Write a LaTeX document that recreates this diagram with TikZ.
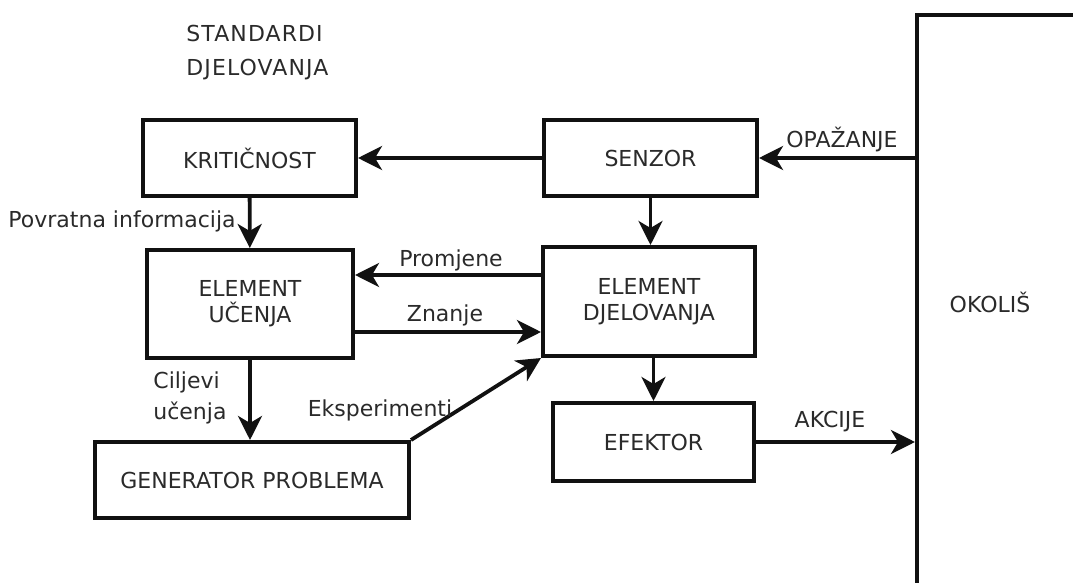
\documentclass[tikz,border=0pt]{standalone}
\usepackage{fontspec}
\setmainfont{DejaVu Sans}
\usetikzlibrary{arrows.meta}
\definecolor{ink}{HTML}{111111}
\definecolor{txt}{HTML}{2A2A2A}

\begin{document}
\begin{tikzpicture}[x=0.5pt, y=-0.5pt,
    box/.style={draw=ink, line width=2pt, fill=white, font=\fontsize{11}{13}\selectfont, text=txt, align=center},
    conn/.style={draw=ink, line width=1.9pt, -{Stealth[length=12pt, width=12pt, inset=3.5pt]}},
    lbl/.style={font=\fontsize{11}{15.5}\selectfont, text=txt, inner sep=0pt}]
  \useasboundingbox (0,0) rectangle (1073,583);
  \clip (0,0) rectangle (1073,583);

  % Boxes
  \node[box, minimum width=106.5pt, minimum height=38pt] (krit) at (249.5,158) {KRITIČNOST};
  \node[box, minimum width=106.5pt, minimum height=38pt] (senzor) at (650.5,158) {SENZOR};
  \node[box, minimum width=103pt, minimum height=54pt] (ucenje) at (250,304) {ELEMENT\\UČENJA};
  \node[box, minimum width=106pt, minimum height=54.5pt] (djelovanje) at (649,301.5) {ELEMENT\\DJELOVANJA};
  \node[box, minimum width=157pt, minimum height=38pt] (generator) at (252,480) {GENERATOR PROBLEMA};
  \node[box, minimum width=100.5pt, minimum height=39pt] (efektor) at (653.5,442) {EFEKTOR};
  \node[box, anchor=north west, minimum width=110pt, minimum height=310pt] (okolis) at (915,13) {};
  \node[lbl] (okolisnaziv) at (990,302) {OKOLIŠ};

  % Arrows
  \draw[conn] (senzor) -- (krit);
  \draw[conn] (krit) -- (ucenje);
  \draw[conn] (djelovanje.west |- 0,275) -- (ucenje.east |- 0,275);
  \draw[conn] (ucenje.east |- 0,332) -- (djelovanje.west |- 0,332);
  \draw[conn] (ucenje.south) -- (ucenje.south |- generator.north);
  \draw[conn] (generator.north east) -- (djelovanje.south west);
  \draw[conn] (senzor.south) -- (senzor.south |- djelovanje.north);
  \draw[conn] (djelovanje.south -| efektor.north) -- (efektor.north);
  \draw[conn] (okolis.west |- senzor.east) -- (senzor.east);
  \draw[conn] (efektor.east) -- (efektor.east -| okolis.west);

  % Labels
  \node[lbl, align=left, anchor=north west, font=\fontsize{11}{17}\selectfont\addfontfeature{LetterSpace=5}] (standardi) at (186,25) {STANDARDI\\DJELOVANJA};
  \node[lbl, anchor=east] (povratna) at (236,221) {Povratna informacija};
  \node[lbl] (promjene) at (451,260) {Promjene};
  \node[lbl] (znanje) at (445,315) {Znanje};
  \node[lbl, align=left, anchor=west] (ciljevi) at (153,398) {Ciljevi\\učenja};
  \node[lbl] (eksperimenti) at (380,410) {Eksperimenti};
  \node[lbl] (opazanje) at (842,139) {OPAŽANJE};
  \node[lbl] (akcije) at (830,422) {AKCIJE};
\end{tikzpicture}
\end{document}
